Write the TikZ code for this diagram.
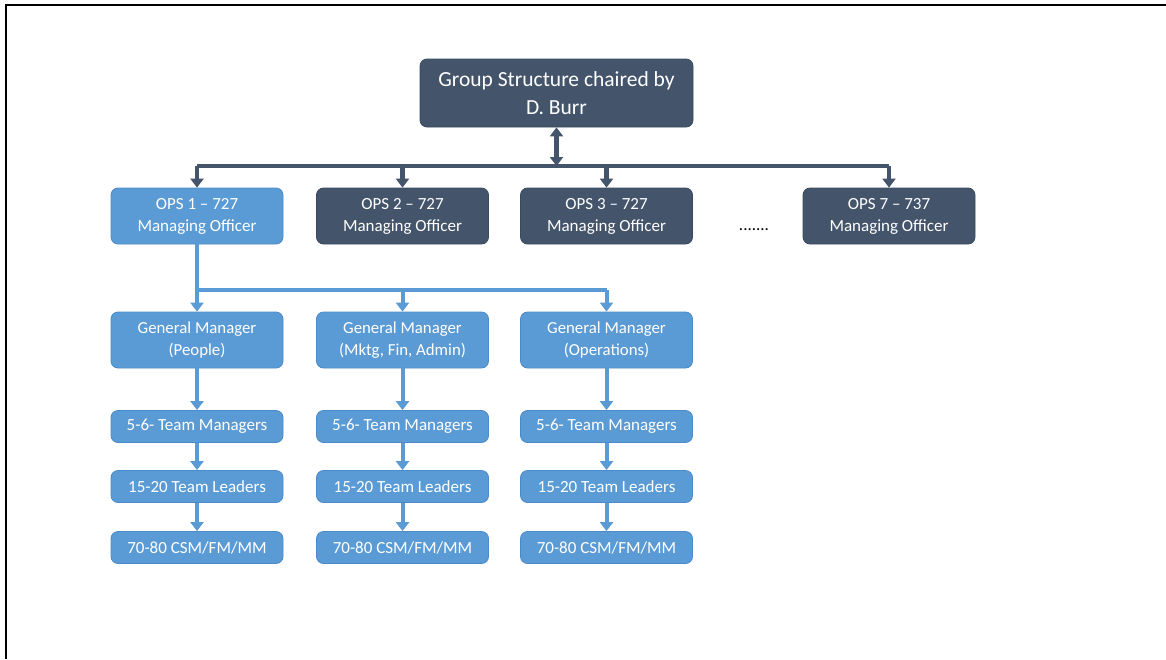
\documentclass[tikz,border=0pt]{standalone}
\usepackage{fontspec}
\setmainfont{Carlito}
\usetikzlibrary{arrows.meta}
\definecolor{slate}{HTML}{44546A}
\definecolor{slateedge}{HTML}{3A4A5E}
\definecolor{skyblue}{HTML}{5B9BD5}
\definecolor{skyedge}{HTML}{4A8AC8}
\tikzset{
  darkbox/.style={draw=slateedge, line width=0.8pt, fill=slate, rounded corners=7pt,
    text=white, align=center, inner sep=0pt},
  bluebox/.style={draw=skyedge, line width=0.8pt, fill=skyblue, rounded corners=7pt,
    text=white, align=center, inner sep=0pt},
  opsbox/.style={minimum width=172pt, minimum height=56pt, font=\fontsize{17}{22}\selectfont},
  gmbox/.style={minimum width=172pt, minimum height=56pt, font=\fontsize{16.8}{22}\selectfont},
  lvlbox/.style={minimum width=172pt, minimum height=32pt, font=\fontsize{17}{20}\selectfont},
  darkline/.style={draw=slate, line width=4.5pt},
  blueline/.style={draw=skyblue, line width=4pt},
  darkarrow/.style={darkline, -{Triangle[width=13pt,length=9pt]}},
  bluearrow/.style={blueline, -{Triangle[width=13pt,length=9pt]}},
}
\begin{document}
\begin{tikzpicture}[x=1pt,y=-1pt]
  \useasboundingbox (0,0) rectangle (1166,659);
  % page frame: top and left edges only
  \draw[line width=2.2pt, black] (6,659) -- (6,5) -- (1166,5);

  % chair
  \node[darkbox, minimum width=273pt, minimum height=68pt,
        font=\fontsize{21.5}{28}\selectfont] (chair) at (556.5,93)
        {Group Structure chaired by\\D. Burr};

  % operations
  \node[bluebox, opsbox] (ops1) at (197,216) {OPS 1 – 727\\Managing Officer};
  \node[darkbox, opsbox] (ops2) at (402.5,216) {OPS 2 – 727\\Managing Officer};
  \node[darkbox, opsbox] (ops3) at (606.5,216) {OPS 3 – 727\\Managing Officer};
  \node[darkbox, opsbox] (ops7) at (889,216) {OPS 7 – 737\\Managing Officer};
  \node[font=\fontsize{17}{20}\selectfont] (dots) at (754,230) {.......};

  % general managers
  \node[bluebox, gmbox] (gm1) at (197,340) {General Manager\\(People)};
  \node[bluebox, gmbox] (gm2) at (402.5,340) {General Manager\\(Mktg, Fin, Admin)};
  \node[bluebox, gmbox] (gm3) at (606.5,340) {General Manager\\(Operations)};

  % lower levels
  \foreach \i/\x in {1/197, 2/402.5, 3/606.5} {
    \node[bluebox, lvlbox] (tm\i) at (\x,426.5) {5-6- Team Managers};
    \node[bluebox, lvlbox] (tl\i) at (\x,486.5) {15-20 Team Leaders};
    \node[bluebox, lvlbox] (cs\i) at (\x,547.5) {70-80 CSM/FM/MM};
  }

  % group bar
  \coordinate (bar) at (556.5,166);
  \draw[darkline] (ops1 |- bar) -- (ops7 |- bar);
  \draw[darkline, {Triangle[width=13pt,length=9pt]}-{Triangle[width=13pt,length=9pt]}]
    (chair.south) -- (bar);
  \foreach \n in {ops1, ops2, ops3, ops7}
    \draw[darkarrow] (\n |- bar) -- (\n.north);

  % OPS 1 split
  \coordinate (split) at (197,290);
  \draw[blueline] (ops1.south) -- (split) -- (gm3 |- split);
  \foreach \n in {gm1, gm2, gm3}
    \draw[bluearrow] (\n |- split) -- (\n.north);

  % chains
  \foreach \i in {1,2,3} {
    \draw[bluearrow] (gm\i.south) -- (tm\i.north);
    \draw[bluearrow] (tm\i.south) -- (tl\i.north);
    \draw[bluearrow] (tl\i.south) -- (cs\i.north);
  }
\end{tikzpicture}
\end{document}
